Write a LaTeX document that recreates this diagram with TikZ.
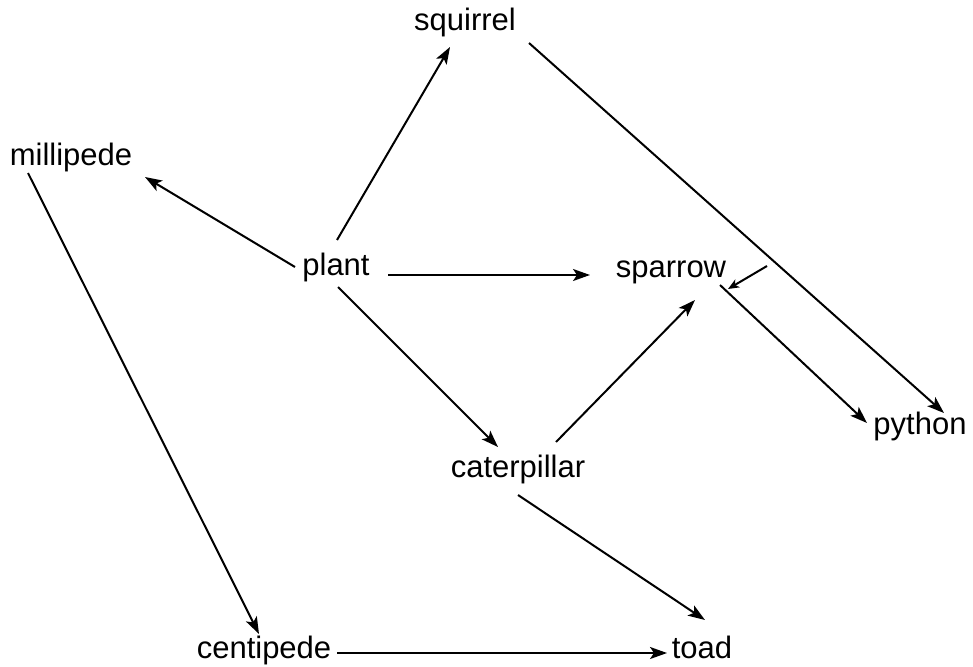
\documentclass[tikz,border=0pt]{standalone}
\usepackage{fontspec}
\setmainfont{Liberation Sans}
\usetikzlibrary{arrows.meta,calc}
\begin{document}
\begin{tikzpicture}[x=1pt,y=-1pt,
  lbl/.style={anchor=base,inner sep=0pt,font=\fontsize{31}{36}\selectfont},
  arr/.style={line width=2pt,-{Stealth[length=17pt,width=12pt,inset=4pt]}}]
\useasboundingbox[fill=white] (0,0) rectangle (973,666);
\node[lbl] (squirrel) at (465,31) {squirrel};
\node[lbl] (millipede) at (71,165) {millipede};
\node[lbl] (plant) at (336,275) {plant};
\node[lbl] (sparrow) at (671,277) {sparrow};
\node[lbl] (python) at (920,434) {python};
\node[lbl] (caterpillar) at (518,477) {caterpillar};
\node[lbl] (centipede) at (264,658) {centipede};
\node[lbl] (toad) at (702,658) {toad};
\coordinate (free) at (767,266);
\draw[arr] ($(plant.base)+(1,-35)$) -- ($(squirrel.base)+(-15,16)$);
\draw[arr] ($(plant.base)+(-41,-8)$) -- ($(millipede.base)+(74,12)$);
\draw[arr] ($(plant.base)+(52,0)$) -- ($(sparrow.base)+(-81,-2)$);
\draw[arr] ($(plant.base)+(2,12)$) -- ($(caterpillar.base)+(-20,-30)$);
\draw[arr] ($(squirrel.base)+(64,12)$) -- ($(python.base)+(24,-21)$);
\draw[arr] ($(millipede.base)+(-43,8)$) -- ($(centipede.base)+(-5,-24)$);
\draw[arr] ($(sparrow.base)+(49,8)$) -- ($(python.base)+(-53,-11)$);
\draw[arr] ($(caterpillar.base)+(38,-35)$) -- ($(sparrow.base)+(24,23)$);
\draw[arr] ($(caterpillar.base)+(0,18)$) -- ($(toad.base)+(3,-38)$);
\draw[arr] ($(centipede.base)+(73,-5)$) -- ($(toad.base)+(-35,-5)$);
\draw[line width=2pt,-{Stealth[length=11pt,width=9pt,inset=3pt]}] (free) -- ($(sparrow.base)+(57,12)$);
\end{tikzpicture}
\end{document}
